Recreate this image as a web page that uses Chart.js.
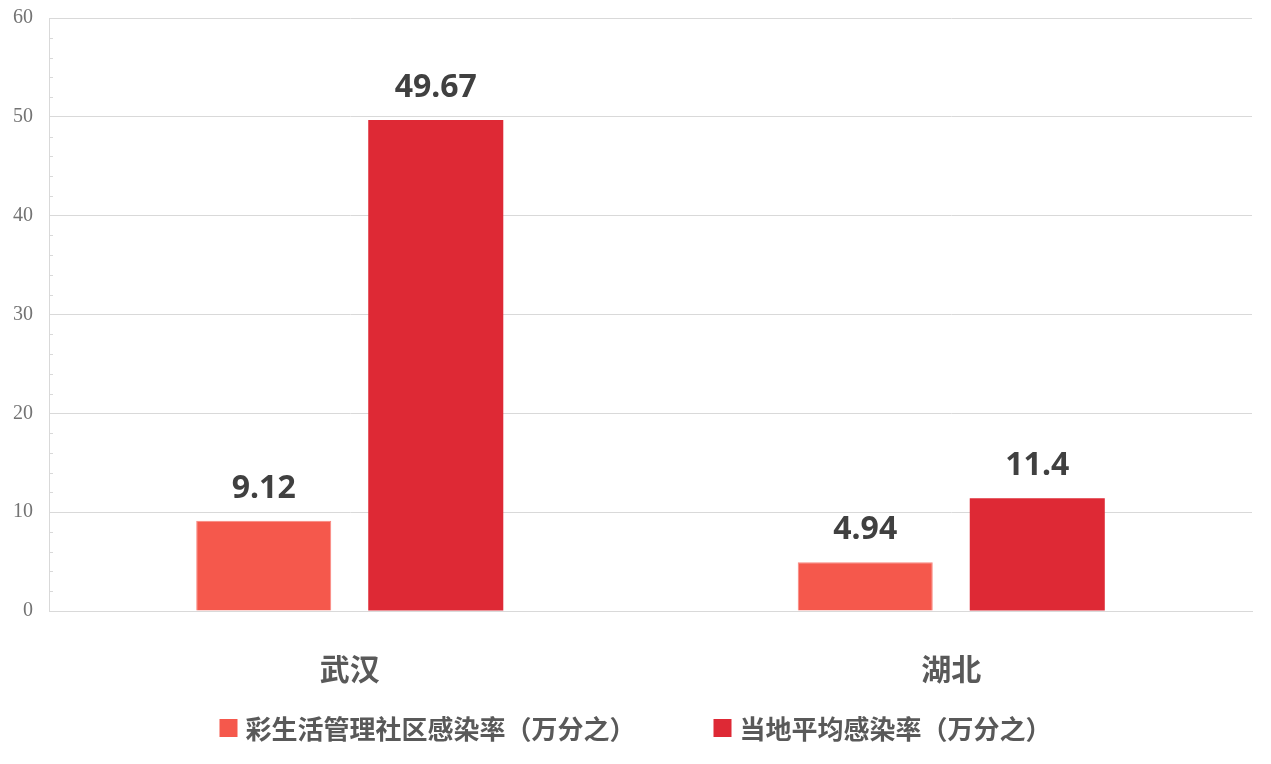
<!DOCTYPE html>
<html>
<head>
<meta charset="utf-8">
<script src="https://cdn.jsdelivr.net/npm/chart.js@4.4.0/dist/chart.umd.min.js"></script>
<style>
  html, body { margin: 0; padding: 0; background: #fff; }
  #wrap { width: 1271px; height: 764px; position: relative; }
</style>
</head>
<body>
<div id="wrap"><canvas id="chart"></canvas></div>
<script>
// data
const categories = ['武汉', '湖北'];
const seriesNames = ['彩生活管理社区感染率（万分之）', '当地平均感染率（万分之）'];
const communityRate = [9.12, 4.94];
const localRate = [49.67, 11.4];
const yTicks = [0, 10, 20, 30, 40, 50, 60];
const minorStep = 2;

const CJK = '"Noto Sans CJK SC", "Noto Sans", sans-serif';
const textGray = '#595959';
const lineGray = '#d9d9d9';

// small inward tick marks on the y axis between the major ticks
const minorTicks = {
  id: 'minorTicks',
  afterDatasetsDraw(chart) {
    const y = chart.scales.y, ctx = chart.ctx;
    const x0 = chart.chartArea.left;
    ctx.save();
    ctx.strokeStyle = lineGray;
    ctx.lineWidth = 1;
    for (let v = yTicks[0]; v < yTicks[yTicks.length - 1]; v += minorStep) {
      if (yTicks.includes(v)) continue;
      const py = Math.round(y.getPixelForValue(v)) + 0.5;
      ctx.beginPath(); ctx.moveTo(x0, py); ctx.lineTo(x0 + 4, py); ctx.stroke();
    }
    ctx.restore();
  }
};

// value labels above the bars
const valueLabels = {
  id: 'valueLabels',
  afterDatasetsDraw(chart) {
    const ctx = chart.ctx;
    ctx.save();
    ctx.font = 'bold 32px "Noto Sans", sans-serif';
    ctx.fillStyle = '#404040';
    ctx.textAlign = 'center';
    ctx.textBaseline = 'alphabetic';
    chart.data.datasets.forEach((ds, i) => {
      chart.getDatasetMeta(i).data.forEach((bar, j) => {
        ctx.fillText(String(ds.data[j]), bar.x, bar.y - 23);
      });
    });
    ctx.restore();
  }
};

// legend drawn under the axis labels
const bottomLegend = {
  id: 'bottomLegend',
  afterDraw(chart) {
    const ctx = chart.ctx;
    const box = 18, gap = 8, spacing = 78, cy = 728;
    ctx.save();
    ctx.font = 'bold 26px ' + CJK;
    const items = chart.data.datasets.map(ds => ({
      text: ds.label, color: ds.backgroundColor,
      w: box + gap + ctx.measureText(ds.label).width
    }));
    const total = items.reduce((s, it) => s + it.w, 0) + spacing * (items.length - 1);
    let x = chart.width / 2 - total / 2;
    ctx.textBaseline = 'middle';
    ctx.textAlign = 'left';
    items.forEach(it => {
      ctx.fillStyle = it.color;
      ctx.fillRect(x, cy - box / 2, box, box);
      ctx.fillStyle = textGray;
      ctx.fillText(it.text, x + box + gap, cy + 1);
      x += it.w + spacing;
    });
    ctx.restore();
  }
};

new Chart(document.getElementById('chart'), {
  type: 'bar',
  data: {
    labels: categories,
    datasets: [
      { label: seriesNames[0], data: communityRate, backgroundColor: '#f5584c', borderColor: '#f8877e', borderWidth: 1, borderSkipped: 'bottom' },
      { label: seriesNames[1], data: localRate, backgroundColor: '#de2935', borderWidth: 0 }
    ]
  },
  options: {
    responsive: true,
    maintainAspectRatio: false,
    animation: false,
    categoryPercentage: 0.572,
    barPercentage: 0.785,
    layout: { padding: { top: 18, right: 19, bottom: 73, left: 0 } },
    plugins: { legend: { display: false }, tooltip: { enabled: false } },
    scales: {
      x: {
        grid: { display: false, drawTicks: false },
        border: { color: lineGray, width: 1 },
        ticks: { color: textGray, padding: 40, font: { family: CJK, size: 30, weight: 'bold' } },
        afterFit(scale) { scale.height = 80; }
      },
      y: {
        min: yTicks[0],
        max: yTicks[yTicks.length - 1],
        afterBuildTicks(scale) { scale.ticks = yTicks.map(v => ({ value: v })); },
        grid: { color: lineGray, drawTicks: false },
        border: { color: lineGray, width: 1 },
        ticks: { color: '#737373', padding: 16, font: { family: '"Liberation Serif", serif', size: 20 } },
        afterFit(scale) {
          scale.width = 49;
          // tick padding is horizontal only here, don't let it push the plot down
          scale.paddingTop = 10;
          scale.paddingBottom = 10;
        }
      }
    }
  },
  plugins: [minorTicks, valueLabels, bottomLegend]
});
</script>
</body>
</html>
